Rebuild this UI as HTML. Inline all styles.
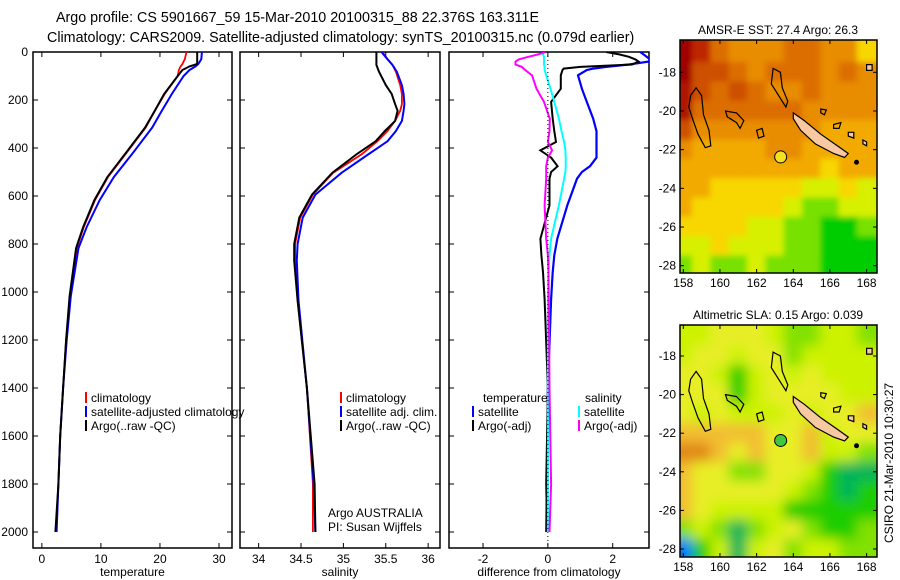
<!DOCTYPE html>
<html><head><meta charset="utf-8">
<style>
body{margin:0;background:#fff;}
svg{display:block;font-family:"Liberation Sans",sans-serif;}
text{font-size:12px;fill:#000;}
.ttl{font-size:14.3px;}
</style></head>
<body>
<svg id="fig" width="900" height="580" viewBox="0 0 900 580" xmlns="http://www.w3.org/2000/svg">
<text class="ttl" x="56" y="22">Argo profile: CS 5901667_59 15-Mar-2010 20100315_88 22.376S 163.311E</text>
<text class="ttl" x="47" y="42">Climatology: CARS2009. Satellite-adjusted climatology: synTS_20100315.nc (0.079d earlier)</text>
<g id="panels"></g>
<g id="maps"></g>
<text transform="translate(893,463) rotate(-90)" text-anchor="middle">CSIRO 21-Mar-2010 10:30:27</text>
</svg>
<script>
// ---------- profile data ----------
const tDepth = [0,30,50,60,75,100,175,250,314,418,521,617,729,817,1017,1200,1400,1600,1800,2000];
const tClim  = [24.5,24.2,23.8,23.5,23.2,23.0,20.8,19.0,17.6,14.4,11.2,9.0,7.1,5.9,4.8,4.1,3.6,3.1,2.8,2.4];
const tSat   = [27.1,27.0,26.5,26.0,25.0,24.0,22.0,20.2,18.7,15.5,12.2,9.8,7.6,6.2,4.9,4.2,3.6,3.1,2.8,2.5];
const tArgo  = [26.3,26.3,26.3,25.0,23.8,23.0,20.7,19.0,17.5,14.3,11.1,8.9,7.0,5.8,4.7,4.1,3.6,3.1,2.8,2.3];

const sDepth = [0,30,54,82,138,175,217,245,287,329,372,425,503,594,690,800,870,1035,1400,1800,2000];
const sClim  = [35.46,35.52,35.58,35.62,35.67,35.69,35.69,35.67,35.61,35.52,35.40,35.22,34.88,34.64,34.49,34.43,34.43,34.46,34.57,34.64,34.64];
const sSat   = [35.45,35.52,35.58,35.63,35.69,35.71,35.72,35.71,35.69,35.62,35.52,35.30,34.98,34.67,34.52,34.46,34.45,34.47,34.57,34.65,34.67];
const sArgo  = [35.39,35.39,35.39,35.42,35.50,35.57,35.61,35.64,35.61,35.49,35.38,35.16,34.87,34.63,34.48,34.42,34.42,34.46,34.57,34.66,34.67];

const dDepth = [0,10,20,31,40,52,62,69,75,97,153,208,278,330,375,410,440,476,500,528,639,778,847,917,1030,1400,1800,2000];
const dTsat  = [2.85,2.95,3.05,3.15,3.1,2.5,1.8,1.4,1.2,0.93,1.05,1.2,1.4,1.5,1.5,1.5,1.5,1.3,1.05,0.9,0.6,0.29,0.2,0.15,0.1,0.0,-0.03,-0.05];
const dTargo = [1.8,2.2,2.5,2.7,2.8,2.6,1.0,0.49,0.45,0.4,0.4,0.1,0.15,0.2,0.25,-0.23,0.1,0.3,0.1,0.05,0.05,-0.23,-0.2,-0.15,-0.1,0.0,-0.05,-0.02];
const dSsat  = [-0.17,-0.15,-0.12,-0.12,-0.12,-0.12,-0.1,-0.1,-0.1,-0.05,0.08,0.2,0.34,0.42,0.5,0.54,0.55,0.55,0.54,0.5,0.34,0.1,0.05,0.02,0.0,0.0,0.0,0.0];
const dSargo = [-0.07,-0.3,-0.6,-0.9,-1.0,-1.0,-0.8,-0.75,-0.7,-0.49,-0.35,-0.12,0.06,0.05,0.0,0.13,0.0,-0.05,-0.05,-0.05,-0.1,-0.05,0.0,0.02,0.03,0.05,0.1,0.05];

const depthTicks = [0,200,400,600,800,1000,1200,1400,1600,1800,2000];
const tTicks = [0,10,20,30];
const sTicks = [34,34.5,35,35.5,36];
const dTicks = [-2,0,2];

// ---------- map data (rows lat -17..-28, cols lon 158..168) ----------
const mapLons = [158,159,160,161,162,163,164,165,166,167,168];
const mapLats = [-17,-18,-19,-20,-21,-22,-23,-24,-25,-26,-27,-28];
const sstGrid = [
[0,2,4,5,5,5,4,4,5,5,7],
[0,3,3,4,5,4,4,4,5,4,5],
[1,3,4,3,4,5,5,4,5,5,5],
[1,4,4,4,4,4,4,5,5,5,5],
[3,5,5,5,5,5,5,5,6,6,6],
[5,6,6,6,6,5,5,6,6,6,6],
[6,6,6,6,6,6,6,6,7,6,6],
[6,6,7,7,7,7,7,8,8,7,8],
[6,7,7,7,7,7,8,9,9,8,8],
[7,7,7,7,8,8,9,9,10,10,9],
[8,8,7,8,8,8,9,9,10,10,10],
[9,8,9,9,8,9,9,9,10,10,10]];
const slaGrid = [
[5,5,4,4,4,5,6,6,5,5,6],
[5,4,4,5,4,4,6,5,5,5,5],
[4,4,5,7,5,4,5,4,5,5,5],
[4,4,4,7,5,4,4,4,4,5,5],
[4,5,4,5,5,5,4,5,4,4,3],
[3,3,3,3,3,4,4,3,5,4,4],
[2,2,3,4,3,4,4,3,5,5,6],
[3,4,4,6,6,4,4,5,7,8,8],
[3,4,4,4,4,4,5,6,7,8,7],
[3,4,5,5,5,5,7,7,7,7,7],
[6,5,6,8,6,5,4,6,7,7,6],
[10,7,5,8,5,4,6,5,5,6,6]];
const argoLon = 163.311, argoLat = -22.376;
const lonTicks = [158,160,162,164,166,168];
const latTicks = [-18,-20,-22,-24,-26,-28];

const NS="http://www.w3.org/2000/svg";
function mk(tag, attrs, parent){const e=document.createElementNS(NS,tag);for(const k in attrs)e.setAttribute(k,attrs[k]);parent.appendChild(e);return e;}
function txt(x,y,s,anchor,parent){const t=mk('text',{x:x,y:y,'text-anchor':anchor||'start'},parent);t.textContent=s;return t;}

const panels=document.getElementById('panels');
const TOP=52, BOT=548;
const yD = d => TOP + d*0.24;

function panel(name,x0,x1,vmin,vmax,ticks,label,series,depths,showY){
  const g=mk('g',{},panels);
  
  
  const xv = v => x0 + (v-vmin)/(vmax-vmin)*(x1-x0);
  const fr=mk('rect',{x:x0,y:TOP,width:x1-x0,height:BOT-TOP,fill:'none',stroke:'#000','stroke-width':1.5},g);
  
  
  ticks.forEach(v=>{
    const X=xv(v);
    mk('line',{x1:X,y1:BOT,x2:X,y2:BOT-5,stroke:'#000'},g);
    mk('line',{x1:X,y1:TOP,x2:X,y2:TOP+5,stroke:'#000'},g);
    const t=txt(X,563,String(v),'middle',g);
    
    
  });
  depthTicks.forEach(d=>{
    const Y=yD(d);
    mk('line',{x1:x0,y1:Y,x2:x0+5,y2:Y,stroke:'#000'},g);
    mk('line',{x1:x1,y1:Y,x2:x1-5,y2:Y,stroke:'#000'},g);
    if(showY){const t=txt(28,Y+4,String(d),'end',g);
      
      }
  });
  const xt=txt((x0+x1)/2,576,label,'middle',g);
  
  
  const cp=mk('clipPath',{id:'cp-'+name},g);
  mk('rect',{x:x0,y:TOP,width:x1-x0,height:BOT-TOP},cp);
  const lg=mk('g',{'clip-path':'url(#cp-'+name+')'},g);
  series.forEach(s=>{
    const pts=s.vals.map((v,i)=>xv(v).toFixed(1)+','+yD(depths[i]).toFixed(1)).join(' ');
    const pl=mk('polyline',{points:pts,fill:'none',stroke:s.color,'stroke-width':s.w},lg);
    
    
  });
  return {g:g,xv:xv};
}

panel('temperature',33,232,-1.5,32.2,tTicks,'temperature',[
  {name:'temp-climatology-line',vals:tClim,color:'#f00',w:1.8},
  {name:'temp-satellite-line',vals:tSat,color:'#00f',w:2},
  {name:'temp-argo-line',vals:tArgo,color:'#000',w:2}],tDepth,true);
panel('salinity',240,440,33.78,36.14,sTicks,'salinity',[
  {name:'sal-climatology-line',vals:sClim,color:'#f00',w:1.8},
  {name:'sal-satellite-line',vals:sSat,color:'#00f',w:2},
  {name:'sal-argo-line',vals:sArgo,color:'#000',w:2}],sDepth,false);
const p3=panel('difference',449,649,-3.05,3.12,dTicks,'difference from climatology',[
  {name:'temp-satellite-diff-line',vals:dTsat,color:'#00f',w:2.2},
  {name:'temp-argo-diff-line',vals:dTargo,color:'#000',w:2},
  {name:'sal-satellite-diff-line',vals:dSsat,color:'#0ff',w:2},
  {name:'sal-argo-diff-line',vals:dSargo,color:'#f0f',w:2}],dDepth,false);
const zl=mk('line',{x1:p3.xv(0),y1:TOP,x2:p3.xv(0),y2:BOT,stroke:'#000','stroke-dasharray':'1,3'},p3.g);



function legendEntry(x,y,color,label,name){
  const g=mk('g',{},panels);
  
  
  mk('rect',{x:x,y:y-10,width:2,height:11,fill:color},g);
  txt(x+6,y,label,'start',g);
}
legendEntry(85,402,'#f00','climatology','legend-climatology');
legendEntry(85,416,'#00f','satellite-adjusted climatology','legend-satellite-adjusted');
legendEntry(85,430,'#000','Argo(..raw -QC)','legend-argo');
legendEntry(340,402,'#f00','climatology','legend-sal-climatology');
legendEntry(340,416,'#00f','satellite adj. clim.','legend-sal-satellite');
legendEntry(340,430,'#000','Argo(..raw -QC)','legend-sal-argo');
(function(){const t=txt(483,402,'temperature','start',panels);
const s=txt(585,402,'salinity','start',panels);})();
legendEntry(472,416,'#00f','satellite','legend-diff-temp-satellite');
legendEntry(472,430,'#000','Argo(-adj)','legend-diff-temp-argo');
legendEntry(578,416,'#0ff','satellite','legend-diff-sal-satellite');
legendEntry(578,430,'#f0f','Argo(-adj)','legend-diff-sal-argo');
(function(){const a=txt(328,517,'Argo AUSTRALIA','start',panels);
const b=txt(328,531,'PI: Susan Wijffels','start',panels);})();

// ---------- maps ----------
const sstStops=[[0,[160,0,0]],[2,[190,40,0]],[3,[205,80,0]],[4,[220,110,0]],[5,[232,140,0]],[6,[242,170,0]],[7,[248,215,0]],[8,[215,240,0]],[9,[120,225,0]],[10,[0,205,0]]];
const slaStops=[[2,[225,135,20]],[3,[242,190,50]],[4,[232,238,40]],[5,[205,242,0]],[6,[130,225,0]],[7,[30,205,0]],[8,[0,180,90]],[9,[0,195,200]],[10,[0,120,255]]];
function cmap(stops,v){
  if(v<=stops[0][0])return 'rgb('+stops[0][1]+')';
  for(let i=1;i<stops.length;i++){if(v<=stops[i][0]){const a=stops[i-1],b=stops[i],f=(v-a[0])/(b[0]-a[0]);
    return 'rgb('+a[1].map((c,k)=>Math.round(c+(b[1][k]-c)*f)).join(',')+')';}}
  return 'rgb('+stops[stops.length-1][1]+')';
}
const islands=[
 {fill:'#f8c8a0',pts:[[164.0,-20.1],[164.6,-20.5],[165.5,-21.2],[166.4,-21.8],[167.0,-22.2],[166.8,-22.4],[166.2,-22.2],[165.2,-21.7],[164.4,-21.0],[164.0,-20.4]]},
 {fill:'none',pts:[[158.7,-18.8],[159.0,-19.2],[159.1,-20.2],[159.4,-21.0],[159.5,-21.8],[159.2,-21.9],[158.8,-21.2],[158.5,-20.4],[158.3,-19.8],[158.4,-19.2]]},
 {fill:'none',pts:[[162.9,-17.8],[163.3,-18.0],[163.4,-18.8],[163.7,-19.5],[163.6,-19.8],[163.2,-19.2],[162.8,-18.6]]},
 {fill:'none',pts:[[160.3,-20.0],[160.9,-20.1],[161.3,-20.5],[161.1,-20.9],[160.9,-20.6],[160.4,-20.3]]},
 {fill:'none',pts:[[162.0,-21.0],[162.3,-20.9],[162.4,-21.3],[162.1,-21.4]]},
 {fill:'none',pts:[[165.5,-19.9],[165.8,-19.95],[165.7,-20.2],[165.5,-20.1]]},
 {fill:'none',pts:[[166.2,-20.7],[166.6,-20.6],[166.5,-20.9],[166.2,-20.9]]},
 {fill:'#f8c8a0',pts:[[167.0,-21.1],[167.3,-21.1],[167.3,-21.4],[167.0,-21.3]]},
 {fill:'#f8c8a0',pts:[[167.8,-21.5],[168.0,-21.6],[168.0,-21.8],[167.8,-21.7]]},
 {fill:'#f8c8a0',pts:[[168.0,-17.6],[168.3,-17.6],[168.3,-17.9],[168.0,-17.9]]}
];
function drawMap(name,top,bottom,lat18,lat28,grid,stops,title,ptColor,blur){
  const L=680,R=877;
  const xL = lon => 683.3 + (lon-158)*18.33;
  const yLat = lat => lat18 + (-18-lat)*(lat28-lat18)/10;
  const g=mk('g',{},document.getElementById('maps'));
  
  
  const cp=mk('clipPath',{id:'cp-'+name},g);
  mk('rect',{x:L,y:top,width:R-L,height:bottom-top},cp);
  const flt=mk('filter',{id:'bl-'+name,filterUnits:'userSpaceOnUse',x:L-30,y:top-30,width:R-L+60,height:bottom-top+60},g);
  mk('feGaussianBlur',{stdDeviation:blur,edgeMode:'duplicate'},flt);
  const outer=mk('g',{'clip-path':'url(#cp-'+name+')'},g);
  const hg=mk('g',{filter:'url(#bl-'+name+')'},outer);
  const cw=18.33, ch=(lat28-lat18)/10;
  grid.forEach((row,r)=>row.forEach((v,c)=>{
    const extraTop = r===0?ch*1.5:0, extraBot = r===grid.length-1?ch*1.5:0;
    const extraL = c===0?cw*1.5:0, extraR = c===row.length-1?cw*1.5:0;
    const cell=mk('rect',{x:(xL(mapLons[c])-cw/2-0.5-extraL).toFixed(1),y:(yLat(mapLats[r])-ch/2-0.5-extraTop).toFixed(1),width:(cw+1+extraL+extraR).toFixed(1),height:(ch+1+extraTop+extraBot).toFixed(1),fill:cmap(stops,v)},hg);
    
    
  }));
  islands.forEach(is=>{
    const p=mk('polygon',{points:is.pts.map(q=>xL(q[0]).toFixed(1)+','+yLat(q[1]).toFixed(1)).join(' '),fill:is.fill,stroke:'#000','stroke-width':1.2},outer);
    
    
  });
  mk('circle',{cx:xL(167.45),cy:yLat(-22.65),r:2.5,fill:'#000'},outer);
  const pt=mk('circle',{cx:xL(argoLon),cy:yLat(argoLat),r:6,fill:ptColor,stroke:'#000','stroke-width':1},outer);
  
  
  const fr=mk('rect',{x:L,y:top,width:R-L,height:bottom-top,fill:'none',stroke:'#000','stroke-width':1.5},g);
  
  
  lonTicks.forEach(lo=>{const X=xL(lo);
    mk('line',{x1:X,y1:top,x2:X,y2:top+4,stroke:'#000'},g);
    mk('line',{x1:X,y1:bottom,x2:X,y2:bottom-4,stroke:'#000'},g);
    const t=txt(X,bottom+14,String(lo),'middle',g);
    
    });
  latTicks.forEach(la=>{const Y=yLat(la);
    mk('line',{x1:L,y1:Y,x2:L+4,y2:Y,stroke:'#000'},g);
    mk('line',{x1:R,y1:Y,x2:R-4,y2:Y,stroke:'#000'},g);
    const t=txt(676,Y+4,String(la),'end',g);
    
    });
  const tt=txt(778,top-6,title,'middle',g);
  
  
}
drawMap('sst-map',40,273,72.3,265.7,sstGrid,sstStops,'AMSR-E SST: 27.4 Argo: 26.3','#f5e020',3);
drawMap('sla-map',325,557,356,549,slaGrid,slaStops,'Altimetric SLA: 0.15 Argo: 0.039','#40c840',6);
</script>
</body></html>
